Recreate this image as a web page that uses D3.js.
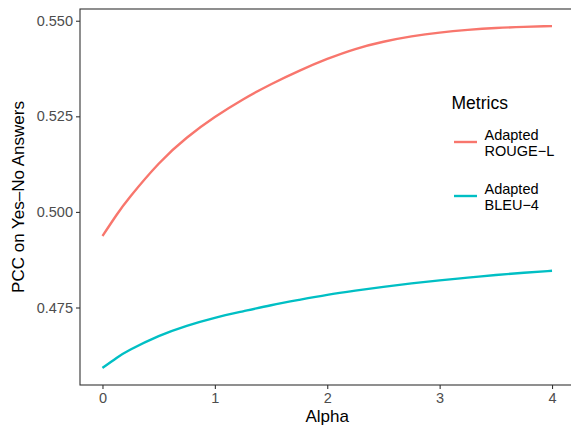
<!DOCTYPE html>
<html>
<head>
<meta charset="utf-8">
<script src="https://cdn.jsdelivr.net/npm/d3@7"></script>
<style>
  body { margin: 0; background: #fff; }
  svg { font-family: "Liberation Sans", Arial, sans-serif; }
</style>
</head>
<body>
<svg width="571" height="426"></svg>
<script>
// Data
const alphas = [0, 0.125, 0.25, 0.5, 0.75, 1, 1.25, 1.5, 1.75, 2, 2.25, 2.5, 2.75, 3, 3.25, 3.5, 3.75, 4];
const rougeL = [0.4937, 0.4992, 0.5041, 0.5126, 0.5194, 0.5248, 0.5294, 0.5334, 0.5369, 0.5400, 0.5426, 0.5445, 0.5459, 0.5469, 0.5476, 0.5481, 0.5484, 0.5486];
const bleu4 = [0.4592, 0.4618, 0.4640, 0.4675, 0.4702, 0.4723, 0.4740, 0.4756, 0.4770, 0.4783, 0.4794, 0.4804, 0.4813, 0.4821, 0.4828, 0.4835, 0.4841, 0.4846];
const seriesNames = [["Adapted", "ROUGE\u2212L"], ["Adapted", "BLEU\u22124"]];
const seriesColors = ["#F8766D", "#00BFC4"];
const xTicks = [0, 1, 2, 3, 4];
const yTicks = [0.475, 0.500, 0.525, 0.550];

const svg = d3.select("svg");
const pLeft = 80, pTop = 9, pRight = 574.5, pBottom = 385;

// ggplot-style 5% expansion
const allY = rougeL.concat(bleu4);
const yMin = d3.min(allY), yMax = d3.max(allY);
const yPad = (yMax - yMin) * 0.05;
const xPad = (d3.max(alphas) - d3.min(alphas)) * 0.05;

const xScale = d3.scaleLinear()
    .domain([d3.min(alphas) - xPad, d3.max(alphas) + xPad])
    .range([pLeft, pRight]);

const yScale = d3.scaleLinear()
    .domain([yMin - yPad, yMax + yPad])
    .range([pBottom, pTop]);

// Lines
const line = d3.line()
    .x(d => xScale(d[0]))
    .y(d => yScale(d[1]))
    .curve(d3.curveNatural);

[rougeL, bleu4].forEach((vals, i) => {
    svg.append("path")
        .datum(alphas.map((a, j) => [a, vals[j]]))
        .attr("fill", "none")
        .attr("stroke", seriesColors[i])
        .attr("stroke-width", 2.4)
        .attr("d", line);
});

// Panel border
svg.append("rect")
    .attr("x", pLeft).attr("y", pTop)
    .attr("width", pRight - pLeft).attr("height", pBottom - pTop)
    .attr("fill", "none")
    .attr("stroke", "#333")
    .attr("stroke-width", 1.1);

// Axes
const xAxis = svg.append("g")
    .attr("transform", `translate(0, ${pBottom})`)
    .call(d3.axisBottom(xScale).tickValues(xTicks).tickSize(4).tickPadding(4).tickFormat(d3.format("d")));

const yAxis = svg.append("g")
    .attr("transform", `translate(${pLeft}, 0)`)
    .call(d3.axisLeft(yScale).tickValues(yTicks).tickSize(4).tickPadding(3).tickFormat(d3.format(".3f")));

[xAxis, yAxis].forEach(g => {
    g.select(".domain").remove();
    g.selectAll(".tick line").attr("stroke", "#333").attr("stroke-width", 1.1);
    g.selectAll(".tick text")
        .attr("fill", "#4d4d4d")
        .style("font-size", "14.5px")
        .style("font-family", "Liberation Sans, Arial, sans-serif");
});

// Axis titles
svg.append("text")
    .attr("x", xScale(2))
    .attr("y", 421.5)
    .attr("text-anchor", "middle")
    .style("font-size", "17px")
    .text("Alpha");

svg.append("text")
    .attr("transform", `translate(24, ${(pTop + pBottom) / 2}) rotate(-90)`)
    .attr("text-anchor", "middle")
    .style("font-size", "17px")
    .text("PCC on Yes\u2013No Answers");

// Legend
const legend = svg.append("g");
legend.append("text")
    .attr("x", 451.5).attr("y", 109)
    .style("font-size", "17.5px")
    .text("Metrics");

const keyY = [142, 196];
seriesNames.forEach((lbl, i) => {
    legend.append("line")
        .attr("x1", 454).attr("x2", 477)
        .attr("y1", keyY[i]).attr("y2", keyY[i])
        .attr("stroke", seriesColors[i])
        .attr("stroke-width", 2.4);
    lbl.forEach((t, k) => {
        legend.append("text")
            .attr("x", 484.5)
            .attr("y", keyY[i] - 2 + k * 16)
            .style("font-size", "14.5px")
            .text(t);
    });
});
</script>
</body>
</html>
